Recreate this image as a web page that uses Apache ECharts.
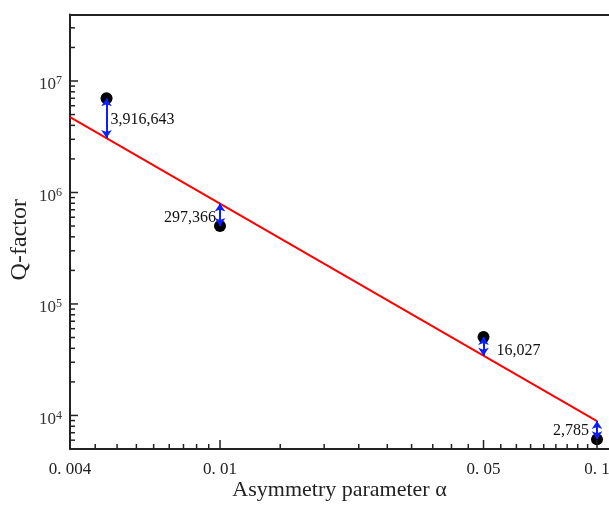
<!DOCTYPE html>
<html>
<head>
<meta charset="utf-8">
<script src="https://cdn.jsdelivr.net/npm/echarts@6/dist/echarts.min.js"></script>
<style>
  html, body { margin: 0; padding: 0; background: #fff; }
  #chart { width: 609px; height: 510px; }
</style>
</head>
<body>
<div id="chart"></div>
<script>
// measured Q-factor against asymmetry parameter
var alphaValues = [0.005, 0.01, 0.05, 0.1];
var qValues = [7.0e6, 5.0e5, 5.05e4, 6.1e3];
// fitted line value at each alpha (arrow ends)
var fitAtPoints = [3.08e6, 7.96e5, 3.44e4, 8.9e3];
var diffLabels = ['3,916,643', '297,366', '16,027', '2,785'];
// fitted line end points
var fitLineX = [0.004, 0.1];
var fitLineY = [4.75e6, 8.9e3];

// axis ticks
var xMajorTicks = [0.004, 0.01, 0.05, 0.1];
var xTickLabels = ['0. 004', '0. 01', '0. 05', '0. 1'];
var yMajorTicks = [1e4, 1e5, 1e6, 1e7];
var yTickExponents = ['4', '5', '6', '7'];

var xMin = 0.004, xMax = 0.1076;
var yMin = 5000, yMax = 3.95e7;

var serif = '"Liberation Serif", "Times New Roman", serif';
var axisColor = '#222';

// minor ticks: 8 linear steps between labelled x ticks, 2..9 per decade on y
var xMinorTicks = [];
for (var i = 0; i < xMajorTicks.length - 1; i++) {
  var step = (xMajorTicks[i + 1] - xMajorTicks[i]) / 9;
  for (var k = 1; k <= 8; k++) xMinorTicks.push(xMajorTicks[i] + k * step);
}
var yMinorTicks = [];
for (var e = 3; e <= 7; e++) {
  for (var m = 2; m <= 9; m++) {
    var v = m * Math.pow(10, e);
    if (v > yMin && v < yMax) yMinorTicks.push(v);
  }
}

// label placement next to each arrow
var labelSide = ['left', 'right', 'left', 'right'];
var labelDx = [4, -4, 13, -8];
var labelDy = [2, 3, 4, 1];

function renderAxisDecor(params, api) {
  var children = [];
  var lineStyle = { stroke: axisColor, lineWidth: 1.5 };
  xMajorTicks.forEach(function (v, i) {
    var p = api.coord([v, yMin]);
    children.push({ type: 'line', shape: { x1: p[0], y1: p[1], x2: p[0], y2: p[1] - 9 }, style: lineStyle });
    children.push({
      type: 'text', x: p[0], y: p[1] + 21,
      style: { text: xTickLabels[i], font: '17px ' + serif, fill: '#222', align: 'center', verticalAlign: 'middle' }
    });
  });
  xMinorTicks.forEach(function (v) {
    var p = api.coord([v, yMin]);
    children.push({ type: 'line', shape: { x1: p[0], y1: p[1], x2: p[0], y2: p[1] - 5 }, style: lineStyle });
  });
  yMajorTicks.forEach(function (v, i) {
    var p = api.coord([xMin, v]);
    children.push({ type: 'line', shape: { x1: p[0], y1: p[1], x2: p[0] + 8, y2: p[1] }, style: lineStyle });
    children.push({
      type: 'text', x: p[0] - 8, y: p[1] + 4,
      style: {
        text: '{b|10}{s|' + yTickExponents[i] + '}',
        align: 'right', verticalAlign: 'middle',
        rich: {
          b: { fontFamily: serif, fontSize: 17, fill: '#333', color: '#333' },
          s: { fontFamily: serif, fontSize: 12, fill: '#333', color: '#333', verticalAlign: 'top', padding: [0, 0, 8, 0] }
        }
      }
    });
  });
  yMinorTicks.forEach(function (v) {
    var p = api.coord([xMin, v]);
    children.push({ type: 'line', shape: { x1: p[0], y1: p[1], x2: p[0] + 5, y2: p[1] }, style: lineStyle });
  });
  return { type: 'group', children: children };
}

function renderDiffLabel(params, api) {
  var i = params.dataIndex;
  var pq = api.coord([alphaValues[i], qValues[i]]);
  var pf = api.coord([alphaValues[i], fitAtPoints[i]]);
  return {
    type: 'text',
    x: pq[0] + labelDx[i],
    y: (pq[1] + pf[1]) / 2 + labelDy[i],
    style: {
      text: diffLabels[i], font: '16px ' + serif, fill: '#111',
      align: labelSide[i], verticalAlign: 'middle'
    }
  };
}

var chart = echarts.init(document.getElementById('chart'));

chart.setOption({
  animation: false,
  backgroundColor: '#fff',
  grid: { left: 70, right: 0, top: 14.5, bottom: 61 },
  xAxis: [{
    type: 'log',
    min: xMin,
    max: xMax,
    name: 'Asymmetry parameter α',
    nameLocation: 'middle',
    nameGap: 30,
    nameTextStyle: { fontFamily: serif, fontSize: 22, color: '#222' },
    axisLine: { onZero: false, lineStyle: { color: axisColor, width: 2 } },
    axisTick: { show: false },
    axisLabel: { show: false },
    splitLine: { show: false }
  }, {
    type: 'value',
    position: 'top',
    axisLine: { show: true, onZero: false, lineStyle: { color: axisColor, width: 2 } },
    axisTick: { show: false },
    axisLabel: { show: false },
    splitLine: { show: false }
  }],
  yAxis: {
    type: 'log',
    min: yMin,
    max: yMax,
    name: 'Q-factor',
    nameLocation: 'middle',
    nameGap: 38,
    nameTextStyle: { fontFamily: serif, fontSize: 24, color: '#222', padding: [0, 16, 0, 0] },
    axisLine: { onZero: false, lineStyle: { color: axisColor, width: 2 } },
    axisTick: { show: false },
    axisLabel: { show: false },
    splitLine: { show: false }
  },
  series: [{
    name: 'fit',
    type: 'line',
    data: fitLineX.map(function (x, i) { return [x, fitLineY[i]]; }),
    symbol: 'none',
    lineStyle: { color: '#ff0000', width: 2 },
    z: 2
  }, {
    name: 'measured',
    type: 'scatter',
    data: alphaValues.map(function (a, i) { return [a, qValues[i]]; }),
    symbolSize: 12,
    itemStyle: { color: '#000', opacity: 1 },
    z: 4,
    markLine: {
      silent: true,
      symbol: ['arrow', 'arrow'],
      symbolSize: 8,
      label: { show: false },
      lineStyle: { color: '#0a1eff', width: 2, type: 'solid', opacity: 1 },
      data: alphaValues.map(function (a, i) {
        return [{ coord: [a, qValues[i]] }, { coord: [a, fitAtPoints[i]] }];
      })
    }
  }, {
    name: 'diffLabels',
    type: 'custom',
    renderItem: renderDiffLabel,
    data: alphaValues.map(function (a, i) { return [a, qValues[i]]; }),
    silent: true,
    z: 5
  }, {
    name: 'axisDecor',
    type: 'custom',
    renderItem: renderAxisDecor,
    data: [[xMin, yMin]],
    silent: true,
    z: 6
  }]
});
</script>
</body>
</html>
